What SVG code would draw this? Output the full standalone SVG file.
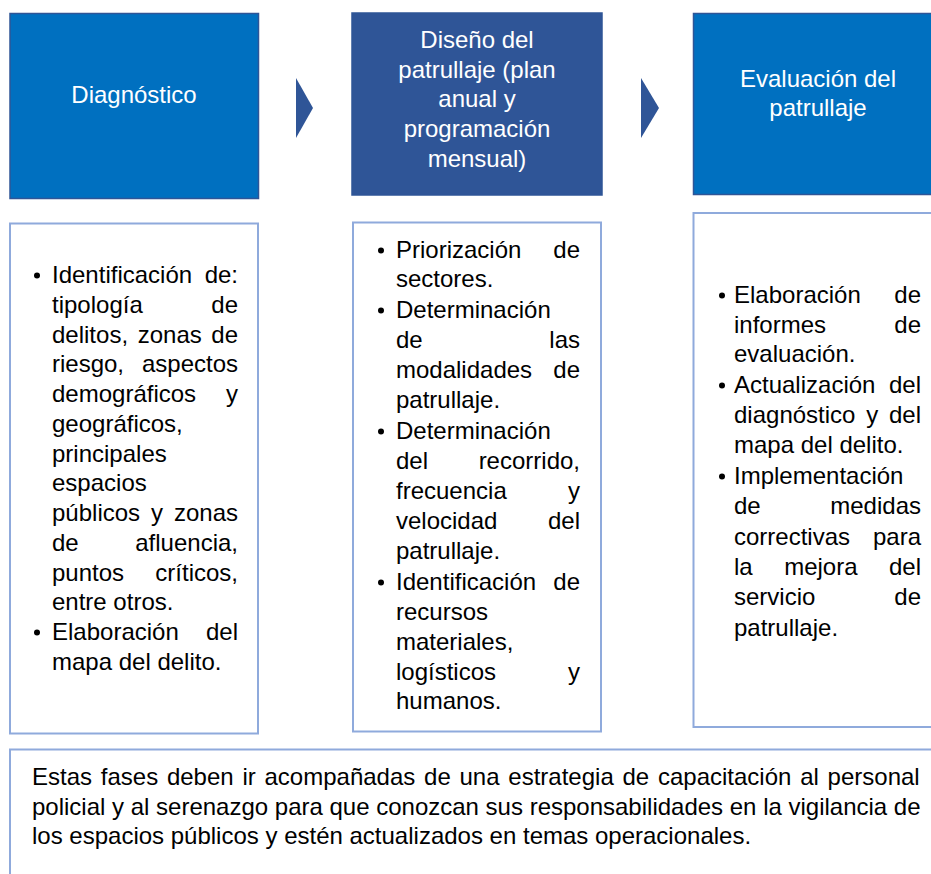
<svg xmlns="http://www.w3.org/2000/svg" width="931" height="874" viewBox="0 0 931 874">
<style>
.t{font-family:"Liberation Sans",Arial,sans-serif;font-size:24px;fill:#000}
.r{text-anchor:end}
.w{font-family:"Liberation Sans",Arial,sans-serif;font-size:24px;fill:#fff;text-anchor:middle}
.hb{fill:#0070C0;stroke:#2F5597;stroke-width:1.5}
.hd{fill:#2F5597;stroke:#2F5597;stroke-width:1.5}
.lb{fill:#fff;stroke:#8FAADC;stroke-width:2}
.bul{fill:#000}
.arr{fill:#2F5597}
</style>
<rect width="931" height="874" fill="#fff"/>

<g id="diagnostico">
<rect class="hb" x="10" y="13.5" width="248.5" height="185"/>
<text class="w" x="134" y="103">Diagnóstico</text>
</g>

<g id="diseno">
<rect class="hd" x="352" y="13" width="250" height="182"/>
<text class="w" x="477" y="48">Diseño del</text>
<text class="w" x="477" y="77.7">patrullaje (plan</text>
<text class="w" x="477" y="107.4">anual y</text>
<text class="w" x="477" y="137.1">programación</text>
<text class="w" x="477" y="166.8">mensual)</text>
</g>

<g id="evaluacion">
<rect class="hb" x="693.5" y="13.5" width="250" height="181"/>
<text class="w" x="818" y="86.5">Evaluación del</text>
<text class="w" x="818" y="116">patrullaje</text>
</g>

<g id="connectors">
<polygon class="arr" points="296,78 313,108 296,138"/>
<polygon class="arr" points="641,78 659,108 641,138"/>
</g>

<g id="detalle-diagnostico">
<rect class="lb" x="10" y="223.5" width="248" height="510"/>
<circle class="bul" cx="37" cy="275.5" r="3"/>
<text class="t" x="52" y="283">Identificación</text><text class="t r" x="238" y="283">de:</text>
<text class="t" x="52" y="312.75">tipología</text><text class="t r" x="238" y="312.75">de</text>
<text class="t" x="52" y="342.5">delitos,</text><text class="t" x="137.7" y="342.5">zonas</text><text class="t r" x="238" y="342.5">de</text>
<text class="t" x="52" y="372.25">riesgo,</text><text class="t r" x="238" y="372.25">aspectos</text>
<text class="t" x="52" y="402">demográficos</text><text class="t r" x="238" y="402">y</text>
<text class="t" x="52" y="431.75">geográficos,</text>
<text class="t" x="52" y="461.5">principales</text>
<text class="t" x="52" y="491.25">espacios</text>
<text class="t" x="52" y="521">públicos</text><text class="t" x="151" y="521">y</text><text class="t r" x="238" y="521">zonas</text>
<text class="t" x="52" y="550.75">de</text><text class="t r" x="238" y="550.75">afluencia,</text>
<text class="t" x="52" y="580.5">puntos</text><text class="t r" x="238" y="580.5">críticos,</text>
<text class="t" x="52" y="610.25">entre otros.</text>
<circle class="bul" cx="37" cy="632.5" r="3"/>
<text class="t" x="52" y="640">Elaboración</text><text class="t r" x="238" y="640">del</text>
<text class="t" x="52" y="669.75">mapa del delito.</text>
</g>

<g id="detalle-diseno">
<rect class="lb" x="353" y="222.5" width="248" height="509"/>
<circle class="bul" cx="381" cy="250.5" r="3"/>
<text class="t" x="396" y="258">Priorización</text><text class="t r" x="580" y="258">de</text>
<text class="t" x="396" y="287">sectores.</text>
<circle class="bul" cx="381" cy="310.5" r="3"/>
<text class="t" x="396" y="318">Determinación</text>
<text class="t" x="396" y="348">de</text><text class="t r" x="580" y="348">las</text>
<text class="t" x="396" y="378">modalidades</text><text class="t r" x="580" y="378">de</text>
<text class="t" x="396" y="408">patrullaje.</text>
<circle class="bul" cx="381" cy="431.5" r="3"/>
<text class="t" x="396" y="439">Determinación</text>
<text class="t" x="396" y="469">del</text><text class="t r" x="580" y="469">recorrido,</text>
<text class="t" x="396" y="499">frecuencia</text><text class="t r" x="580" y="499">y</text>
<text class="t" x="396" y="529">velocidad</text><text class="t r" x="580" y="529">del</text>
<text class="t" x="396" y="559">patrullaje.</text>
<circle class="bul" cx="381" cy="582.5" r="3"/>
<text class="t" x="396" y="590">Identificación</text><text class="t r" x="580" y="590">de</text>
<text class="t" x="396" y="620">recursos</text>
<text class="t" x="396" y="650">materiales,</text>
<text class="t" x="396" y="680">logísticos</text><text class="t r" x="580" y="680">y</text>
<text class="t" x="396" y="709">humanos.</text>
</g>

<g id="detalle-evaluacion">
<rect class="lb" x="693.5" y="213" width="250" height="514"/>
<circle class="bul" cx="722" cy="295.5" r="3"/>
<text class="t" x="734" y="303">Elaboración</text><text class="t r" x="921" y="303">de</text>
<text class="t" x="734" y="333">informes</text><text class="t r" x="921" y="333">de</text>
<text class="t" x="734" y="362">evaluación.</text>
<circle class="bul" cx="722" cy="385.5" r="3"/>
<text class="t" x="734" y="393">Actualización</text><text class="t r" x="921" y="393">del</text>
<text class="t" x="734" y="423">diagnóstico</text><text class="t" x="866.2" y="423">y</text><text class="t r" x="921" y="423">del</text>
<text class="t" x="734" y="453">mapa del delito.</text>
<circle class="bul" cx="722" cy="476.5" r="3"/>
<text class="t" x="734" y="484">Implementación</text>
<text class="t" x="734" y="514">de</text><text class="t r" x="921" y="514">medidas</text>
<text class="t" x="734" y="545">correctivas</text><text class="t r" x="921" y="545">para</text>
<text class="t" x="734" y="575">la</text><text class="t" x="784.2" y="575">mejora</text><text class="t r" x="921" y="575">del</text>
<text class="t" x="734" y="605">servicio</text><text class="t r" x="921" y="605">de</text>
<text class="t" x="734" y="636">patrullaje.</text>
</g>

<g id="nota">
<rect class="lb" x="10" y="749.5" width="940" height="140"/>
<text class="t" x="32" y="785" word-spacing="2.1">Estas fases deben ir acompañadas de una estrategia de capacitación al personal</text>
<text class="t" x="32" y="814.5">policial y al serenazgo para que conozcan sus responsabilidades en la vigilancia de</text>
<text class="t" x="32" y="844">los espacios públicos y estén actualizados en temas operacionales.</text>
</g>
</svg>
